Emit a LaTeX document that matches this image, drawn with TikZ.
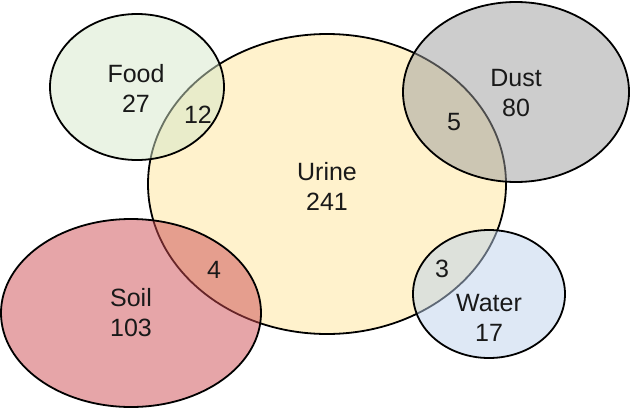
\documentclass[tikz,border=0pt]{standalone}
\usepackage{fontspec}
\setmainfont{Liberation Sans}
\definecolor{urinec}{RGB}{255,242,204}
\definecolor{foodc}{RGB}{213,231,201}
\definecolor{dustc}{RGB}{155,155,155}
\definecolor{soilc}{RGB}{205,75,81}
\definecolor{waterc}{RGB}{189,209,235}
\tikzset{
  setline/.style={draw=black, line width=1.8pt},
  overlay set/.style={setline, fill opacity=0.5},
  lbl/.style={font=\fontsize{25}{30}\selectfont, align=center, text=black!90, inner sep=0pt},
}
\begin{document}
\begin{tikzpicture}[x=1pt,y=-1pt]
\useasboundingbox (0,0) rectangle (632,410);
% sets
\draw[setline, fill=urinec] (327,184) ellipse [x radius=179, y radius=150];
\draw[overlay set, fill=foodc] (137,87) ellipse [x radius=87, y radius=73];
\draw[overlay set, fill=dustc] (516,92) ellipse [x radius=113, y radius=90];
\draw[overlay set, fill=soilc] (131,313) ellipse [x radius=130, y radius=94];
\draw[overlay set, fill=waterc] (489,294) ellipse [x radius=76, y radius=64];
% labels
\node[lbl] (food) at (136,88) {Food\\27};
\node[lbl] (dust) at (516,93) {Dust\\80};
\node[lbl] (urine) at (327,186) {Urine\\241};
\node[lbl] (soil) at (131,313) {Soil\\103};
\node[lbl] (water) at (489,318) {Water\\17};
\node[lbl] (fu) at (198,115) {12};
\node[lbl] (du) at (454,122) {5};
\node[lbl] (su) at (214,270) {4};
\node[lbl] (wu) at (442,269) {3};
\end{tikzpicture}
\end{document}
